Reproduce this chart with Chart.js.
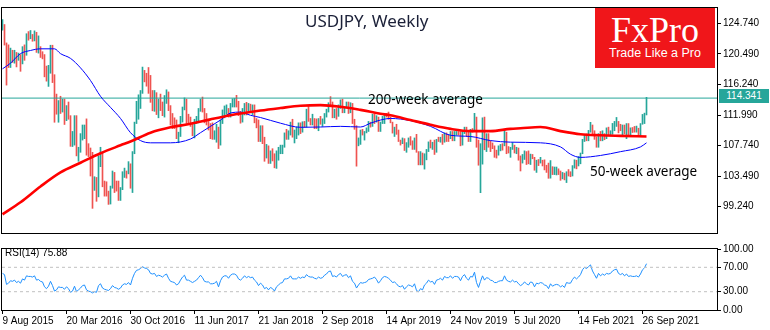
<!DOCTYPE html>
<html lang="en">
<head>
    <meta charset="UTF-8">
    <title>USDJPY, Weekly</title>
    <script src="https://cdn.jsdelivr.net/npm/chart.js"></script>
    <style>
        body { margin: 0; width: 770px; height: 330px; background: #fff; overflow: hidden; position: relative; }
        canvas { position: absolute; left: 0; }
        #priceChart { top: 0; }
        #rsiChart { top: 241px; }
        .txt { position: absolute; white-space: nowrap; }
        #title { left: 305px; top: 9px; font: 17px 'Noto Sans', sans-serif; color: #1b2038; }
        #ma200Label { left: 368px; top: 90px; font: 13.5px 'Noto Sans', sans-serif; color: #000; }
        #ma50Label { left: 590px; top: 162px; font: 13.5px 'Noto Sans', sans-serif; color: #000; }
        #logo { position: absolute; left: 595px; top: 8px; width: 120px; height: 60px; background: #f0161a; color: #fff; text-align: center; }
        #logo .big { font: 36px 'Liberation Serif', serif; line-height: 34px; margin-top: 5px; }
        #logo .small { font: 12.5px 'Liberation Sans', sans-serif; margin-top: -1px; }
        #priceTag { left: 719px; top: 89px; width: 50px; height: 14px; background: #26a69a; color: #fff; font: 10px 'Liberation Sans', sans-serif; line-height: 14px; text-align: center; }
        #rsiLabel { left: 5px; top: 247px; font: 10px 'Liberation Sans', sans-serif; color: #000; }
    </style>
</head>
<body>
    <canvas id="priceChart" width="770" height="241"></canvas>
    <canvas id="rsiChart" width="770" height="89"></canvas>
    <div class="txt" id="title">USDJPY, Weekly</div>
    <div class="txt" id="ma200Label">200-week average</div>
    <div class="txt" id="ma50Label">50-week average</div>
    <div id="logo"><div class="big">FxPro</div><div class="small">Trade Like a Pro</div></div>
    <div class="txt" id="priceTag"></div>
    <div class="txt" id="rsiLabel"></div>
    <script>
        // weekly bars, first week = 9 Aug 2015 (index 0), last = 10 Oct 2021 (index 322)
        const weekHigh = [
            125.28,124.58,122.02,121.75,121.30,121.00,121.00,120.70,120.60,120.40,
            121.50,121.75,123.30,123.60,123.75,123.20,123.70,123.50,123.00,121.50,
            120.80,120.40,118.80,118.90,121.70,121.70,117.60,114.90,114.00,114.60,
            114.20,114.20,113.30,113.80,111.90,109.70,111.90,111.90,107.50,109.40,
            110.60,110.60,111.45,108.00,107.40,106.80,103.40,103.30,106.30,107.50,
            106.80,102.80,102.70,101.40,102.10,104.20,104.00,102.80,102.80,101.90,
            104.10,104.60,104.20,105.50,105.20,106.90,111.00,113.90,114.80,115.40,
            118.66,118.20,117.80,118.60,117.50,115.40,115.40,115.10,114.20,114.90,
            113.80,114.70,115.50,115.20,113.30,112.20,111.60,111.30,109.60,111.80,
            113.10,114.37,114.20,112.10,111.70,110.70,111.40,111.80,112.90,114.20,
            114.49,112.90,112.20,111.10,110.80,110.90,109.80,110.70,110.30,111.30,
            112.70,113.25,113.40,112.90,113.60,114.25,114.30,114.73,113.90,112.50,
            112.90,113.60,113.75,113.60,113.50,113.40,113.40,111.50,111.30,110.50,
            110.50,108.90,107.90,107.70,107.00,107.30,106.60,107.00,107.50,107.80,
            107.80,109.50,110.00,109.80,111.00,111.40,109.90,110.30,110.90,110.90,
            111.05,111.10,112.80,113.17,111.50,112.10,111.50,111.45,111.50,111.80,
            111.45,112.20,112.80,113.70,114.55,113.80,112.80,112.90,113.40,114.10,
            114.20,113.10,113.80,113.80,113.70,113.60,111.40,110.50,108.80,109.90,
            110.00,109.70,110.20,111.10,111.00,112.10,112.10,111.90,111.70,111.00,
            111.80,112.10,112.20,112.40,111.70,111.00,110.30,110.70,109.90,108.50,
            108.80,108.70,108.15,108.80,108.99,108.40,108.80,109.30,106.90,106.90,
            106.70,106.60,107.20,108.25,108.50,108.20,108.50,108.60,108.90,108.90,
            109.30,109.50,109.50,109.20,109.70,109.70,109.70,109.70,109.70,109.70,
            109.70,110.30,110.30,109.60,110.00,110.10,112.22,111.70,108.50,108.00,
            111.60,111.70,109.40,109.40,108.40,108.10,107.70,107.10,107.70,107.90,
            108.00,109.85,109.60,107.60,107.50,108.15,107.80,107.50,107.40,106.30,
            106.50,107.00,106.90,107.00,106.55,106.50,106.10,105.70,105.80,106.10,
            105.70,105.75,105.00,105.30,105.65,104.80,104.75,104.75,104.50,104.20,
            104.00,103.90,104.10,104.40,104.10,104.95,105.76,105.70,106.20,106.70,
            108.60,109.20,109.35,109.85,110.97,110.60,109.80,108.95,109.40,109.70,
            109.80,109.40,110.20,110.30,109.80,110.82,111.10,111.65,111.10,110.70,
            110.60,110.60,110.80,110.80,110.20,110.25,110.40,110.45,110.15,110.80,
            112.07,112.25,114.45
        ];
        const weekLow = [
            123.80,121.72,116.15,118.60,118.60,119.30,119.20,118.68,119.60,118.07,
            119.10,119.60,120.30,122.40,122.60,122.25,122.30,120.70,120.60,120.00,
            119.80,117.30,116.70,115.97,117.80,116.50,110.98,112.10,110.98,112.20,
            112.40,110.67,111.20,111.40,107.63,107.60,107.80,106.30,105.55,106.80,
            108.50,108.70,106.40,106.20,103.50,99.00,101.50,99.98,100.60,104.80,
            102.00,100.70,100.70,99.55,99.60,101.80,101.20,101.40,100.10,100.10,
            101.60,103.30,103.20,103.80,101.80,101.20,106.60,110.80,111.40,112.90,
            115.00,116.60,116.00,115.00,113.75,112.57,112.50,112.05,111.60,112.60,
            111.90,111.70,113.60,112.60,110.60,110.10,110.10,108.70,108.13,109.00,
            111.00,112.70,110.80,110.90,110.40,109.10,108.80,110.80,110.90,112.50,
            112.40,110.90,110.60,109.90,108.70,108.60,108.60,108.20,107.32,107.80,
            110.80,111.60,112.10,111.70,111.70,113.10,113.10,113.10,111.90,110.85,
            111.00,112.00,112.00,112.50,112.60,112.05,110.90,110.20,108.30,108.30,
            108.00,105.55,106.00,105.25,105.25,105.60,104.64,104.56,105.70,106.60,
            106.60,107.50,108.60,108.60,109.20,108.90,108.10,108.70,109.20,109.40,
            109.60,110.30,110.30,111.10,110.60,110.60,110.10,110.10,109.80,110.70,
            110.40,110.80,111.70,112.40,113.40,111.60,111.60,111.40,111.80,112.90,
            112.30,112.30,113.00,112.20,112.30,110.80,110.00,104.87,107.70,107.90,
            109.20,108.50,109.50,109.70,110.30,110.40,110.80,111.00,109.70,109.70,
            110.80,110.80,111.70,111.40,110.90,109.47,109.00,109.30,108.30,107.80,
            108.00,107.05,106.80,107.50,107.80,107.20,107.20,106.80,105.05,105.05,
            105.05,104.46,105.75,106.90,107.40,107.20,106.50,106.80,108.30,108.20,
            107.90,108.20,108.30,108.30,108.70,108.40,108.40,109.20,109.20,107.70,
            107.80,109.40,109.00,108.30,108.30,109.60,109.70,107.50,105.00,101.18,
            105.15,107.15,106.90,107.50,106.90,107.30,106.10,106.00,106.40,107.00,
            107.10,107.70,106.60,106.70,106.10,107.20,106.70,106.60,105.70,104.20,
            105.30,105.80,105.10,105.20,105.10,105.90,104.30,104.00,104.95,105.30,
            104.90,104.35,104.00,103.18,103.20,103.70,103.70,103.65,103.70,102.90,
            103.10,102.96,102.59,103.50,103.40,103.50,104.60,104.50,104.90,105.20,
            106.60,108.30,108.40,108.40,109.60,109.30,108.60,107.50,107.50,108.40,
            108.40,108.55,108.70,109.20,109.20,109.30,109.80,110.40,109.50,109.80,
            109.05,109.35,108.70,109.10,109.10,109.55,109.60,109.60,109.10,109.10,
            110.70,110.80,112.00
        ];
        // 1 = up week (teal), 0 = down week (red)
        const weekUp = [
            1,0,0,0,1,0,1,0,1,0, 1,0,1,0,1,0,1,0,1,0, 0,0,0,1,1,0,0,0,1,0, 1,0,1,0,0,1,1,0,1,1,
            1,1,0,0,0,0,1,0,1,1, 0,0,0,0,1,1,0,0,0,1, 1,1,0,1,0,1,1,1,1,1, 1,0,0,0,0,0,1,0,1,0,
            0,1,1,0,0,0,0,0,1,1, 1,1,0,0,0,0,1,1,1,1, 0,0,0,0,0,0,1,1,0,1, 1,1,1,0,1,1,1,0,0,0,
            1,1,0,1,0,1,0,0,0,1, 0,0,1,0,1,0,0,1,1,1, 1,1,0,1,1,0,1,1,1,0, 1,0,1,0,0,1,0,0,1,0,
            1,1,1,1,0,0,1,0,1,1, 0,1,1,0,1,0,0,0,1,1, 0,1,1,1,0,1,0,1,0,1, 1,1,0,0,0,0,1,0,0,0,
            1,0,1,1,0,0,1,0,0,1, 0,1,1,1,0,1,0,1,0,1, 0,1,0,0,1,0,1,1,0,0, 1,1,0,0,1,0,1,0,0,1,
            1,0,1,0,0,0,0,0,1,1, 0,1,0,0,1,1,0,1,0,0, 1,1,0,0,1,0,0,1,0,1, 0,0,0,0,1,0,1,1,0,0,
            1,0,1,0,0,1,1,0,1,1, 1,1,0,1,1,0,0,0,1,0, 1,0,1,0,1,1,1,1,0,0, 1,0,1,0,1,0,0,1,0,1,
            1,1,1
        ];
        const rsiValues = [
            60,58,42,44,48,47,49,45,47,44, 51,49,56,55,55,54,56,49,50,47,
            46,38,35,39,47,40,31,33,38,37, 37,34,38,35,29,31,39,30,33,36,
            40,41,33,31,30,28,30,29,40,43, 36,34,33,32,35,40,37,36,34,36,
            41,43,42,45,41,52,60,65,66,68, 71,69,68,66,60,59,60,55,57,56,
            54,57,59,52,47,46,45,41,43,49, 54,57,49,49,47,45,47,49,53,57,
            53,47,46,46,43,43,44,47,38,48, 54,56,56,52,57,59,59,57,51,49,
            52,56,53,55,53,54,49,46,40,44, 41,35,37,33,37,35,31,38,41,44,
            45,51,51,52,56,51,51,51,54,52, 54,53,58,55,54,54,52,51,54,52,
            53,57,59,63,64,55,56,54,58,60, 55,57,58,53,56,47,44,36,41,45,
            44,45,46,50,51,52,54,50,44,48, 53,55,54,52,49,45,46,43,39,38,
            40,34,38,41,40,38,43,32,30,35, 33,41,44,49,46,47,42,49,50,52,
            49,55,53,53,56,52,55,55,54,48, 55,58,52,49,55,54,62,45,37,47,
            56,49,53,52,49,48,45,45,47,48, 48,56,49,47,46,49,46,47,43,40,
            42,46,43,41,46,45,38,44,43,45, 44,41,40,35,43,39,41,42,41,38,
            40,37,45,44,44,50,54,51,54,58, 66,70,68,71,74,64,58,52,60,56,
            59,57,60,59,60,64,66,67,60,58, 60,56,59,55,56,55,55,56,54,59,
            66,69,75.88
        ];
        const ma200Weeks = [0,9,19,29,39,49,59,64,74,84,94,104,114,129,139,149,159,169,179,189,194,204,214,224,234,244,254,259,269,279,289,299,309,322];
        const ma200Values = [98.17,99.84,102.04,104.0,105.34,106.67,107.77,108.3,109.53,110.28,110.76,111.38,111.95,112.61,112.96,113.27,113.36,113.14,112.7,112.17,111.95,111.29,110.63,110.06,109.75,109.75,110.06,110.14,110.32,109.75,109.31,109.17,109.09,109.0];
        const ma50Weeks = [0,4,9,14,19,26,29,34,39,44,49,54,59,64,69,74,84,94,99,104,109,114,119,124,129,139,149,159,169,179,184,189,194,204,214,224,234,244,254,269,279,284,289,299,309,319,322];
        const ma50Values = [118.42,119.2,120.53,120.97,121.2,121.2,120.53,119.87,118.55,116.79,114.59,113.05,111.51,109.53,108.43,108.12,108.12,108.65,109.53,110.41,111.29,112.26,112.39,111.95,111.64,110.85,110.28,110.32,110.41,110.32,110.85,111.29,111.51,111.2,110.41,109.17,109.0,108.43,108.21,108.12,107.55,106.53,106.09,106.36,106.89,107.55,108.12];
        const currentPrice = 114.341;
        const priceTicks = [99.24, 103.49, 107.74, 111.99, 116.24, 120.49, 124.74];
        const rsiTicks = [0, 30, 70, 100];
        const rsiLevels = [70, 30];
        const dateTickWeeks = [0, 32, 64, 96, 128, 160, 192, 224, 256, 288, 320];
        const dateTickLabels = ['9 Aug 2015', '20 Mar 2016', '30 Oct 2016', '11 Jun 2017', '21 Jan 2018', '2 Sep 2018', '14 Apr 2019', '24 Nov 2019', '5 Jul 2020', '14 Feb 2021', '26 Sep 2021'];

        const TEAL = '#26a69a';
        const RED = '#ef5350';
        const axisFont = { family: "'Liberation Sans', Arial, sans-serif", size: 10 };
        const xMin = -0.25, xMax = 357.25;

        document.getElementById('priceTag').textContent = currentPrice.toFixed(3);
        document.getElementById('rsiLabel').textContent = 'RSI(14) ' + rsiValues[rsiValues.length - 1].toFixed(2);

        const framePlugin = {
            id: 'frame',
            afterDraw(chart) {
                const a = chart.chartArea, c = chart.ctx;
                c.save();
                c.strokeStyle = '#000';
                c.lineWidth = 1;
                c.strokeRect(Math.round(a.left) - 0.5, Math.round(a.top) - 0.5, Math.round(a.right - a.left) + 1, Math.round(a.bottom - a.top) + 1);
                c.restore();
            }
        };

        const barData = weekHigh.map((h, i) => ({ x: i, y: [weekLow[i], h] }));
        const ma200Data = ma200Weeks.map((w, i) => ({ x: w, y: ma200Values[i] }));
        const ma50Data = ma50Weeks.map((w, i) => ({ x: w, y: ma50Values[i] }));

        new Chart(document.getElementById('priceChart').getContext('2d'), {
            type: 'bar',
            data: {
                datasets: [
                    {
                        data: barData,
                        backgroundColor: ctx => weekUp[ctx.dataIndex] ? TEAL : RED,
                        barThickness: 1,
                        borderWidth: 0,
                        order: 4
                    },
                    {
                        type: 'line',
                        data: [{ x: xMin, y: currentPrice }, { x: xMax, y: currentPrice }],
                        borderColor: TEAL, borderWidth: 1, pointRadius: 0,
                        order: 3
                    },
                    {
                        type: 'line',
                        data: ma50Data,
                        borderColor: '#0000ff', borderWidth: 1, pointRadius: 0,
                        cubicInterpolationMode: 'monotone',
                        order: 2
                    },
                    {
                        type: 'line',
                        data: ma200Data,
                        borderColor: '#ff0000', borderWidth: 2.6, pointRadius: 0,
                        cubicInterpolationMode: 'monotone',
                        order: 1
                    }
                ]
            },
            options: {
                responsive: false,
                animation: false,
                layout: { padding: { left: 2, top: 2, right: 0, bottom: 2 } },
                plugins: { legend: { display: false }, tooltip: { enabled: false } },
                scales: {
                    x: { type: 'linear', min: xMin, max: xMax, offset: false, display: false },
                    y: {
                        position: 'right',
                        min: 95.57,
                        max: 126.88,
                        afterFit(s) { s.width = 53; },
                        afterBuildTicks(s) { s.ticks = priceTicks.map(v => ({ value: v })); },
                        grid: { drawOnChartArea: false, tickLength: 4, color: '#000' },
                        border: { color: '#000' },
                        ticks: { color: '#000', font: axisFont, padding: 2, callback: v => v.toFixed(3) }
                    }
                }
            },
            plugins: [framePlugin]
        });

        const rsiData = rsiValues.map((v, i) => ({ x: i, y: v }));
        const levelSets = rsiLevels.map(l => ({
            data: [{ x: xMin, y: l }, { x: xMax, y: l }],
            borderColor: '#c0c0c0', borderWidth: 1, borderDash: [3, 3], pointRadius: 0
        }));

        new Chart(document.getElementById('rsiChart').getContext('2d'), {
            type: 'line',
            data: {
                datasets: levelSets.concat([{
                    data: rsiData,
                    borderColor: '#1e90ff', borderWidth: 1, pointRadius: 0, tension: 0
                }])
            },
            options: {
                responsive: false,
                animation: false,
                layout: { padding: { left: 2, top: 3, right: 0, bottom: 0 } },
                plugins: { legend: { display: false }, tooltip: { enabled: false } },
                scales: {
                    x: {
                        type: 'linear', min: xMin, max: xMax, offset: false,
                        afterFit(s) { s.height = 20; },
                        afterBuildTicks(s) { s.ticks = dateTickWeeks.map(v => ({ value: v })); },
                        grid: { drawOnChartArea: false, tickLength: 4, color: '#000' },
                        border: { color: '#000' },
                        ticks: {
                            color: '#000', font: axisFont, padding: 1, align: 'start',
                            maxRotation: 0, autoSkip: false,
                            callback: (v, i) => dateTickLabels[i]
                        }
                    },
                    y: {
                        position: 'right', min: 0, max: 100,
                        afterFit(s) { s.width = 53; },
                        afterBuildTicks(s) { s.ticks = rsiTicks.map(v => ({ value: v })); },
                        grid: { drawOnChartArea: false, tickLength: 4, color: '#000' },
                        border: { color: '#000' },
                        ticks: { color: '#000', font: axisFont, padding: 2, callback: v => v.toFixed(2) }
                    }
                }
            },
            plugins: [framePlugin]
        });
    </script>
</body>
</html>
